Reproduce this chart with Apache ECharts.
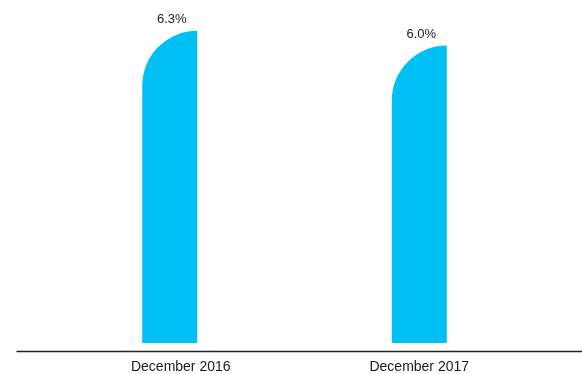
<!DOCTYPE html>
<html>
<head>
<meta charset="utf-8">
<script src="https://cdn.jsdelivr.net/npm/echarts@6/dist/echarts.min.js"></script>
<style>
  html, body { margin: 0; padding: 0; background: #fff; }
  #chart { width: 582px; height: 374px; }
</style>
</head>
<body>
<div id="chart"></div>
<script>
// rates at year end
const categories = ['December 2016', 'December 2017']
const rates = [6.3, 6.0]

const chart = echarts.init(document.getElementById('chart'), null, { renderer: 'canvas' })

chart.setOption({
  backgroundColor: '#ffffff',
  animation: false,
  textStyle: { fontFamily: '"Liberation Sans", Arial, sans-serif' },
  grid: [
    { left: 45, right: 38, top: 0, bottom: 31 },
    // full width baseline
    { left: 17, right: 0, top: 0, bottom: 23 }
  ],
  xAxis: [
    {
      type: 'category',
      gridIndex: 0,
      data: categories.map((c, i) => ({
        value: c,
        textStyle: i === 0 ? { padding: [0, 0, 0, 22] } : {}
      })),
      axisLine: { show: false },
      axisTick: { show: false },
      axisLabel: { color: '#1a1a1a', fontSize: 14, margin: 17 }
    },
    {
      type: 'value',
      gridIndex: 1,
      min: 0,
      max: 1,
      axisLine: { show: true, lineStyle: { color: '#222', width: 1.3 } },
      axisTick: { show: false },
      axisLabel: { show: false },
      splitLine: { show: false }
    }
  ],
  yAxis: [
    { type: 'value', gridIndex: 0, min: 0, max: 6.92, show: false },
    { type: 'value', gridIndex: 1, show: false }
  ],
  series: [
    {
      type: 'bar',
      xAxisIndex: 0,
      yAxisIndex: 0,
      data: rates,
      barWidth: 55,
      itemStyle: { color: '#00bff3', borderRadius: [55, 0, 0, 0] },
      label: {
        show: true,
        position: 'top',
        distance: 5,
        offset: [2, 0],
        color: '#1a1a1a',
        fontSize: 13,
        formatter: (p) => p.value.toFixed(1) + '%'
      }
    }
  ]
})
</script>
</body>
</html>
